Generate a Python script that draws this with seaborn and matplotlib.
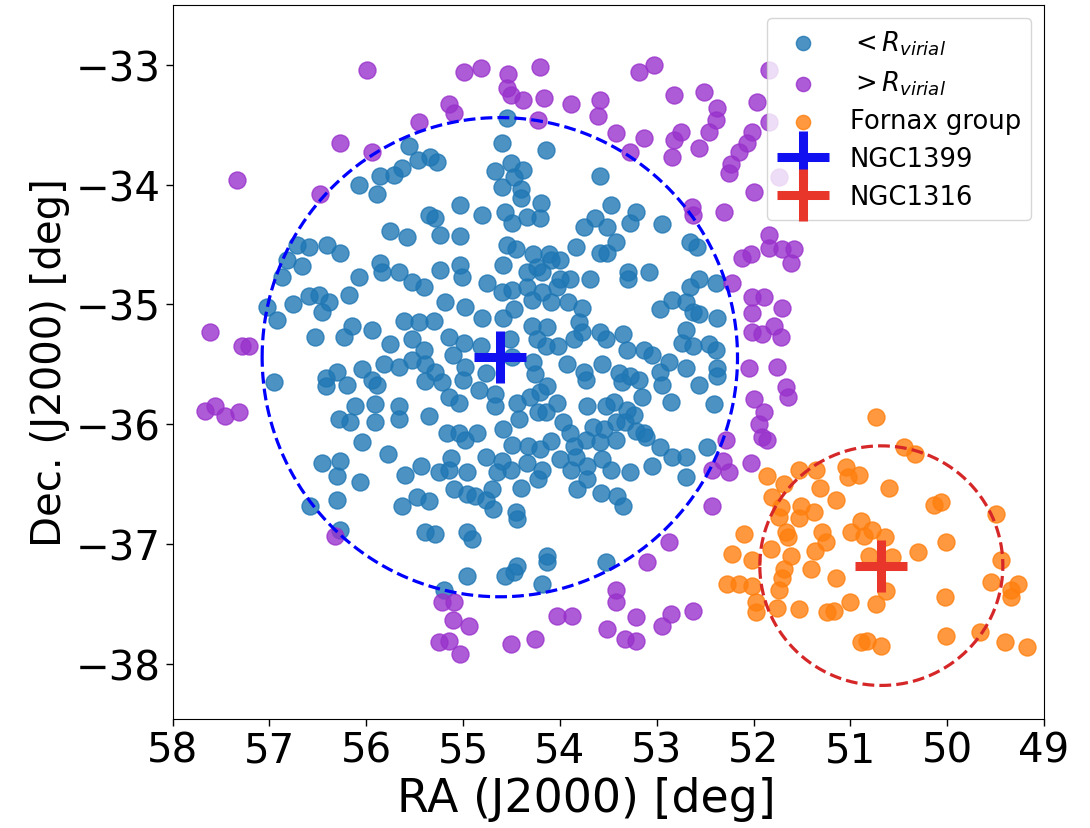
import numpy as np
import matplotlib
matplotlib.use("Agg")
import matplotlib.pyplot as plt
import seaborn as sns

# Galaxies inside the Fornax virial radius (RA, Dec in degrees)
ra_in = [
    55.56, 55.46, 55.34, 55.27, 55.63, 55.71, 55.86, 56.07, 55.89, 55.03, 55.35, 55.29, 55.75, 55.58, 55.24, 55.03,
    54.55, 54.60, 54.14, 54.67, 54.50, 54.38, 54.47, 54.60, 54.40, 54.40, 53.59, 54.80, 54.57, 54.49, 54.34, 54.21,
    54.19, 53.47, 53.21, 53.28, 52.95, 53.75, 53.64, 53.51,
    56.71, 56.59, 56.40, 56.27, 56.82, 56.66, 56.87, 56.07, 55.86, 55.84, 55.66, 55.53, 55.40, 55.24, 55.03, 55.01,
    57.02, 56.92, 56.76, 56.59, 56.49, 56.38, 56.46, 56.18, 56.53, 56.23, 56.15, 55.94, 55.61, 55.45, 55.30, 55.19, 54.98,
    55.75, 55.53, 55.40, 55.14, 54.99, 55.10,
    56.95, 56.42, 56.30, 56.42, 56.20, 56.04, 55.94, 55.89, 55.82, 55.66, 55.53, 55.39, 55.29, 55.39, 55.22, 55.15, 55.04, 54.98,
    56.28, 56.17, 56.12, 55.91, 55.91, 55.66, 55.66, 55.35, 55.17, 55.04, 54.98, 56.04, 55.77, 56.46, 56.27, 56.30, 56.06,
    55.60, 55.43, 55.25, 55.15, 55.12,
    54.55, 54.45, 54.28, 54.11, 54.00, 53.83, 53.59, 53.51, 53.42, 52.66, 52.58,
    54.59, 54.34, 54.24, 54.18, 54.09, 54.00, 53.90, 53.69, 53.30, 53.30, 53.08, 52.66, 52.56, 52.39, 54.75, 54.60, 54.49,
    54.34, 54.18, 54.03,
    54.80, 54.59, 54.47, 54.29, 54.09, 53.92, 53.77, 53.80, 54.29, 54.13, 52.97, 52.84, 52.70, 52.63, 52.56, 52.38,
    54.81, 54.52, 54.24, 54.14, 54.02, 53.85, 53.77, 53.59, 53.52, 53.35, 53.31, 53.13, 53.05, 52.70, 52.74, 52.63, 52.46, 52.39,
    55.00, 54.76, 54.49, 54.28, 54.26, 53.93, 53.75, 53.73, 53.56, 53.39, 53.28, 53.36, 53.18, 52.97, 52.95, 52.87, 52.70,
    52.56, 52.38, 52.38, 54.83,
    54.67, 54.67, 54.44, 54.31, 54.21, 54.13, 54.03, 54.23, 54.42, 54.14, 53.97, 53.72, 53.52, 53.44, 53.31, 53.42, 53.23,
    53.15, 52.85, 52.41, 53.66, 53.54, 53.33, 53.21, 53.13,
    54.86, 54.59, 54.49, 54.33, 54.21, 54.09, 53.90, 53.85, 53.73, 53.59, 53.42, 53.11, 52.97, 52.84, 52.70, 52.48, 54.76,
    54.60, 54.65, 54.50, 54.34, 54.18, 54.00, 53.88, 53.83, 53.72, 53.56, 53.47, 53.28, 53.05, 52.70, 54.96,
    56.30, 56.58, 56.27, 55.63, 55.48, 55.35, 55.39, 55.29, 54.96, 54.96, 55.20, 55.09, 54.96,
    54.88, 54.70, 54.69, 54.76, 54.40, 54.23, 54.45, 54.44, 54.91, 54.57, 54.47, 54.44, 54.13, 54.13, 54.18, 53.82, 53.72,
    53.57, 53.41, 53.35, 53.52,
]
dec_in = [
    -33.68, -33.79, -33.77, -33.81, -33.86, -33.92, -33.93, -34.00, -34.08, -34.17, -34.25, -34.28, -34.39, -34.44, -34.42, -34.43,
    -33.44, -33.65, -33.71, -33.89, -33.82, -33.88, -33.94, -34.02, -34.04, -34.11, -33.93, -34.25, -34.23, -34.32, -34.27, -34.28,
    -34.15, -34.17, -34.23, -34.32, -34.33, -34.35, -34.28, -34.35,
    -34.50, -34.52, -34.50, -34.57, -34.63, -34.68, -34.77, -34.77, -34.65, -34.73, -34.73, -34.81, -34.85, -34.71, -34.67, -34.77,
    -35.02, -35.13, -35.00, -34.93, -34.92, -34.98, -35.06, -34.92, -35.27, -35.27, -35.18, -35.21, -35.14, -35.15, -35.14, -34.98, -35.02,
    -35.33, -35.29, -35.38, -35.27, -35.32, -35.42,
    -35.65, -35.61, -35.56, -35.68, -35.67, -35.54, -35.63, -35.67, -35.50, -35.52, -35.46, -35.50, -35.56, -35.64, -35.65, -35.77, -35.82, -35.52,
    -35.96, -35.98, -35.85, -35.83, -35.98, -35.85, -35.96, -35.93, -36.07, -36.07, -36.13, -36.15, -36.25, -36.32, -36.31, -36.43, -36.48,
    -36.42, -36.35, -36.40, -36.38, -36.28,
    -34.50, -34.54, -34.58, -34.58, -34.63, -34.52, -34.57, -34.57, -34.48, -34.48, -34.52,
    -34.67, -34.73, -34.69, -34.73, -34.63, -34.79, -34.79, -34.79, -34.73, -34.79, -34.73, -34.85, -34.79, -34.82, -34.82, -34.90, -34.88,
    -34.85, -34.90, -34.85,
    -35.11, -35.11, -35.04, -34.96, -34.98, -34.98, -35.03, -35.15, -35.18, -35.19, -35.04, -34.96, -34.98, -35.06, -35.08, -35.11,
    -35.35, -35.29, -35.29, -35.35, -35.35, -35.29, -35.23, -35.23, -35.29, -35.25, -35.38, -35.38, -35.42, -35.21, -35.32, -35.35, -35.33, -35.38,
    -35.63, -35.57, -35.44, -35.48, -35.58, -35.50, -35.56, -35.63, -35.50, -35.57, -35.60, -35.65, -35.63, -35.56, -35.67, -35.48, -35.53,
    -35.67, -35.53, -35.60, -35.71,
    -35.75, -35.85, -35.82, -35.77, -35.73, -35.68, -35.82, -35.90, -35.96, -35.90, -35.98, -35.85, -35.85, -35.81, -35.88, -35.98, -35.92,
    -35.77, -35.81, -35.83, -36.02, -36.04, -35.98, -36.06, -36.07,
    -36.07, -36.04, -36.17, -36.18, -36.21, -36.14, -36.07, -36.18, -36.13, -36.15, -36.13, -36.11, -36.19, -36.27, -36.27, -36.19, -36.27,
    -36.31, -36.40, -36.38, -36.32, -36.38, -36.29, -36.38, -36.27, -36.35, -36.29, -36.38, -36.40, -36.35, -36.44, -36.40,
    -36.63, -36.68, -36.88, -36.68, -36.61, -36.64, -36.90, -36.92, -36.90, -37.27, -37.38, -36.54, -36.58,
    -36.60, -36.54, -36.71, -36.63, -36.53, -36.46, -36.73, -36.79, -36.96, -37.27, -37.23, -37.18, -37.10, -37.15, -37.33, -36.54, -36.46,
    -36.57, -36.60, -36.68, -37.15,
]

# Galaxies beyond the virial radius
ra_out = [
    55.99, 54.99, 54.81, 54.21, 54.54, 54.55, 54.50, 54.38, 54.16, 53.88, 53.59, 53.61, 53.42, 53.13, 53.28, 53.18,
    53.03, 52.82, 52.51, 52.38, 52.39, 52.46, 52.75, 52.82, 52.84, 52.56, 51.96, 52.02, 52.07, 52.15, 52.23, 52.25,
    52.00, 52.64, 52.63, 52.30, 54.23, 55.15, 55.09, 55.45, 56.27, 55.94, 56.48, 57.33, 51.84, 51.84, 51.74, 51.84,
    52.12, 52.03, 51.84, 51.71, 51.58, 51.61, 52.22, 52.02, 51.89, 52.02, 51.71, 52.02, 51.91, 51.79, 51.72, 52.05,
    51.76, 51.66, 51.64, 52.00, 51.89, 51.94, 51.91, 51.86, 52.03, 52.28, 52.32, 52.43, 52.25,
    57.61, 57.28, 57.21, 57.67, 57.56, 57.46, 57.31,
    56.32, 55.22, 55.09, 55.10, 54.94, 55.25, 55.15, 55.03, 54.50, 54.26, 54.03, 53.87, 53.42, 53.42, 53.51, 53.33,
    53.21, 53.21, 52.95, 52.85, 52.63, 53.10, 52.87, 52.43,
]
dec_out = [
    -33.04, -33.06, -33.03, -33.02, -33.08, -33.19, -33.25, -33.29, -33.28, -33.33, -33.29, -33.43, -33.57, -33.61, -33.73, -33.06,
    -33.00, -33.25, -33.23, -33.36, -33.46, -33.56, -33.56, -33.63, -33.77, -33.69, -33.31, -33.56, -33.65, -33.73, -33.83, -33.90,
    -34.06, -34.19, -34.25, -34.23, -33.46, -33.33, -33.40, -33.48, -33.65, -33.73, -34.08, -33.96, -33.04, -33.48, -33.94, -34.42,
    -34.61, -34.58, -34.53, -34.54, -34.54, -34.65, -34.82, -34.94, -34.94, -35.07, -35.03, -35.23, -35.25, -35.18, -35.27, -35.53,
    -35.52, -35.69, -35.77, -35.79, -35.90, -36.00, -36.11, -36.13, -36.32, -36.13, -36.31, -36.38, -36.40,
    -35.23, -35.35, -35.35, -35.89, -35.85, -35.93, -35.90,
    -36.93, -37.48, -37.48, -37.63, -37.68, -37.82, -37.81, -37.92, -37.83, -37.79, -37.60, -37.60, -37.38, -37.48, -37.71, -37.79,
    -37.81, -37.61, -37.68, -37.58, -37.56, -37.15, -36.98, -36.68,
]

# Fornax A group members
ra_fx = [
    50.74, 50.45, 50.33, 51.86, 51.53, 51.35, 51.05, 50.91, 51.02, 50.60, 51.69, 51.31, 51.15, 51.81, 51.72, 51.74,
    51.51, 51.53, 51.38, 51.66, 51.64, 51.29, 51.25, 51.36, 51.82, 51.61, 52.02, 51.69, 51.71, 51.74, 52.02, 51.41,
    51.15, 51.97, 51.76, 51.53, 51.24, 51.17, 51.00, 50.74, 50.63, 50.89, 50.99, 50.86, 50.78, 50.64, 50.57, 50.81,
    50.30, 50.14, 50.06, 50.01, 49.50, 49.44, 49.55, 49.34, 49.27, 49.34, 50.02, 50.01, 49.66, 49.40, 49.18, 50.89,
    50.83, 50.68, 52.10, 52.22, 52.27, 52.15, 51.97,
]
dec_fx = [
    -35.94, -36.19, -36.25, -36.43, -36.38, -36.38, -36.36, -36.42, -36.44, -36.53, -36.50, -36.53, -36.63, -36.61, -36.69, -36.77,
    -36.68, -36.78, -36.73, -36.90, -36.94, -36.90, -36.98, -37.06, -37.04, -37.10, -37.13, -37.21, -37.28, -37.38, -37.35, -37.21,
    -37.28, -37.57, -37.53, -37.54, -37.57, -37.56, -37.48, -37.50, -37.39, -36.81, -36.90, -36.93, -36.88, -36.94, -37.11, -37.10,
    -37.07, -36.67, -36.65, -36.98, -36.75, -37.13, -37.32, -37.38, -37.33, -37.44, -37.44, -37.77, -37.73, -37.82, -37.86, -37.82,
    -37.81, -37.85, -36.92, -37.08, -37.33, -37.33, -37.48,
]

# Central galaxies and their radii (deg)
ngc1399 = (54.62, -35.44)
ngc1316 = (50.68, -37.18)
r_fornax = 2.0
r_fornax_a = 1.0

x_ticks = [58, 57, 56, 55, 54, 53, 52, 51, 50, 49]
y_ticks = [-33, -34, -35, -36, -37, -38]

plt.rcParams['font.family'] = ['DejaVu Sans']
fig = plt.figure(figsize=(10.9, 8.29), dpi=100)
ax = fig.add_axes([0.1583, 0.1315, 0.7995, 0.8613])

point_kw = dict(s=150, alpha=0.8, linewidth=1.0, ax=ax)
sns.scatterplot(x=ra_in, y=dec_in, color='C0', edgecolor='C0', label=r'$<R_{virial}$', **point_kw)
sns.scatterplot(x=ra_out, y=dec_out, color='darkorchid', edgecolor='darkorchid', label=r'$>R_{virial}$', **point_kw)
sns.scatterplot(x=ra_fx, y=dec_fx, color='C1', edgecolor='C1', label='Fornax group', **point_kw)
handles_pts = list(ax.collections[:3])

# Virial-radius circles projected on the sky
t = np.linspace(0, 2 * np.pi, 400)
for (c_ra, c_dec), r, col in [(ngc1399, r_fornax, 'blue'), (ngc1316, r_fornax_a, 'tab:red')]:
    ax.plot(c_ra + r * np.cos(t) / np.cos(np.deg2rad(c_dec)), c_dec + r * np.sin(t),
            ls='--', color=col, lw=2.3, zorder=4)

h1, = ax.plot([ngc1399[0]], [ngc1399[1]], ls='none', marker='+', ms=38, mew=6.5,
              color='#1010f0', zorder=6, label='NGC1399')
h2, = ax.plot([ngc1316[0]], [ngc1316[1]], ls='none', marker='+', ms=38, mew=6.5,
              color='#e8362a', zorder=6, label='NGC1316')

ax.set_xlim(58, 49)
ax.set_ylim(-38.46, -32.5)
ax.set_xticks(x_ticks)
ax.set_yticks(y_ticks)
ax.tick_params(labelsize=29, length=5, width=1)
ax.set_xlabel('RA (J2000) [deg]', fontsize=33)
ax.xaxis.label.set_x(0.475)
ax.set_ylabel('Dec. (J2000) [deg]', fontsize=29)

leg = ax.legend(handles=handles_pts + [h1, h2],
                labels=[r'$<R_{virial}$', r'$>R_{virial}$', 'Fornax group', 'NGC1399', 'NGC1316'],
                loc='upper right', fontsize=18.6, labelspacing=0.45)
for hnd in leg.legend_handles[:3]:
    hnd.set_sizes([105])

fig.savefig('out.png', dpi=100)
